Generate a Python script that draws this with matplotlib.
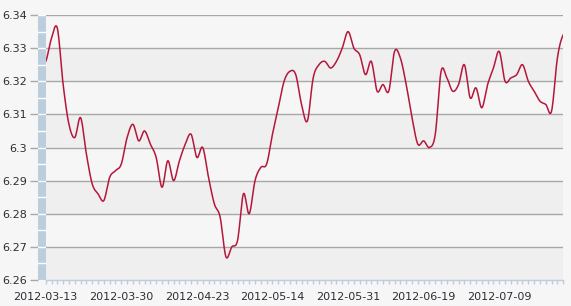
import numpy as np
import matplotlib
matplotlib.use("Agg")
import matplotlib.pyplot as plt
from matplotlib.ticker import MultipleLocator

# USD/CNY daily rate, one value per trading day
rates = [6.326, 6.333, 6.336, 6.319, 6.307, 6.303, 6.309, 6.298, 6.289, 6.286,
         6.284, 6.291, 6.293, 6.295, 6.303, 6.307, 6.302, 6.305, 6.301, 6.297,
         6.288, 6.296, 6.290, 6.296, 6.301, 6.304, 6.297, 6.300, 6.291, 6.283,
         6.279, 6.267, 6.270, 6.272, 6.286, 6.280, 6.290, 6.294, 6.295, 6.304,
         6.312, 6.320, 6.323, 6.322, 6.313, 6.308, 6.321, 6.325, 6.326, 6.324,
         6.326, 6.330, 6.335, 6.330, 6.328, 6.322, 6.326, 6.317, 6.319, 6.317,
         6.329, 6.327, 6.319, 6.309, 6.301, 6.302, 6.300, 6.304, 6.323, 6.321,
         6.317, 6.319, 6.325, 6.315, 6.318, 6.312, 6.319, 6.324, 6.329, 6.320,
         6.321, 6.322, 6.325, 6.320, 6.317, 6.314, 6.313, 6.311, 6.327, 6.334]
date_labels = ["2012-03-13", "2012-03-30", "2012-04-23", "2012-05-14",
               "2012-05-31", "2012-06-19", "2012-07-09"]
label_every = 13
y_ticks = [6.26, 6.27, 6.28, 6.29, 6.30, 6.31, 6.32, 6.33, 6.34]
y_tick_labels = ["6.26", "6.27", "6.28", "6.29", "6.3", "6.31", "6.32", "6.33", "6.34"]


def smooth(vals, n=12):
    # catmull-rom through the points, x stays on the index grid
    p = np.concatenate([[vals[0]], vals, [vals[-1]]])
    xs, ys = [], []
    for i in range(len(vals) - 1):
        p0, p1, p2, p3 = p[i], p[i + 1], p[i + 2], p[i + 3]
        t = np.linspace(0, 1, n, endpoint=False)
        y = 0.5 * (2 * p1 + (-p0 + p2) * t
                   + (2 * p0 - 5 * p1 + 4 * p2 - p3) * t ** 2
                   + (-p0 + 3 * p1 - 3 * p2 + p3) * t ** 3)
        xs.append(i + t)
        ys.append(y)
    xs.append([len(vals) - 1])
    ys.append([vals[-1]])
    return np.concatenate(xs), np.concatenate(ys)


W, H = 571, 306
bg = "#f6f6f6"
band = "#efefef"
grid_c = "#a8a8a8"
bar_c = "#bccddd"
txt_c = "#2a2f36"

fig = plt.figure(figsize=(W / 100, H / 100), dpi=100, facecolor=bg)
left, right, top, bottom = 45.7, 563.2, 15, 280
ax = fig.add_axes([left / W, 1 - bottom / H, (right - left) / W, (bottom - top) / H])
ax.set_facecolor(bg)

ymin, ymax = y_ticks[0], y_ticks[-1]
for k in range(len(y_ticks) - 1):
    if k % 2 == 0:
        ax.axhspan(y_ticks[k], y_ticks[k + 1], color=band, lw=0, zorder=0)
for v in y_ticks[1:]:
    ax.axhline(v, color=grid_c, lw=1.0, zorder=1)

x = np.arange(len(rates))
sx, sy = smooth(np.array(rates))
ax.plot(sx, sy, color="#b5173a", lw=1.1, zorder=3, solid_joinstyle="round")

ax.set_xlim(0, len(rates) - 1)
ax.set_ylim(ymin, ymax)
for s in ["top", "right", "left"]:
    ax.spines[s].set_visible(False)
ax.spines["bottom"].set_color(bar_c)
ax.spines["bottom"].set_linewidth(1.0)
ax.set_yticks([])
ax.set_xticks(x[::label_every][:len(date_labels)])
ax.set_xticklabels(date_labels, fontsize=8, color=txt_c)
ax.xaxis.set_minor_locator(MultipleLocator(1))
ax.tick_params(axis="x", which="both", length=3, width=1, color=bar_c, pad=6)

# left colour strip carrying the y labels
bar = fig.add_axes([38 / W, 1 - bottom / H, 8 / W, (bottom - top) / H])
bar.set_facecolor(bar_c)
bar.set_ylim(ymin, ymax)
bar.set_xlim(0, 1)
for v in np.arange(ymin + 0.005, ymax, 0.005):
    bar.axhline(v, color="white", lw=1.0)
for s in bar.spines.values():
    s.set_visible(False)
bar.set_xticks([])
bar.set_yticks(y_ticks)
bar.set_yticklabels(y_tick_labels, fontsize=8, color=txt_c)
bar.tick_params(axis="y", length=6, width=1, color=grid_c, pad=2)

fig.savefig("out.png", dpi=100, facecolor=bg)
